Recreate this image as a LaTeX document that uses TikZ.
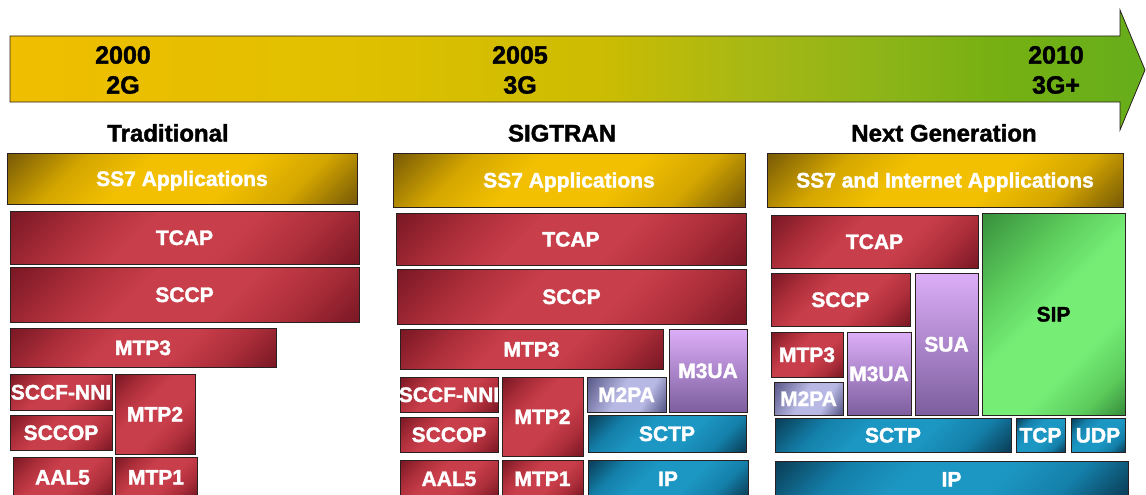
\documentclass[tikz,border=0pt]{standalone}
\usepackage{fontspec}
\setmainfont{Liberation Sans}[BoldFeatures={FakeBold=1.6}]
\definecolor{rdark}{HTML}{7A1824}
\definecolor{rmid}{HTML}{AC2E3A}
\definecolor{rlight}{HTML}{C83E4A}
\definecolor{ydark}{HTML}{7A5C06}
\definecolor{ymid}{HTML}{D4A600}
\definecolor{ylight}{HTML}{F2C000}
\definecolor{bdark}{HTML}{0A3E58}
\definecolor{bmid}{HTML}{1480AA}
\definecolor{blight}{HTML}{1C96C2}
\definecolor{gdark}{HTML}{38903C}
\definecolor{gmid}{HTML}{5CCC5C}
\definecolor{glight}{HTML}{76EE76}
\definecolor{mdark}{HTML}{5E5E8E}
\definecolor{mlight}{HTML}{B8B8E4}
\definecolor{ptop}{HTML}{DCAEF8}
\definecolor{pbot}{HTML}{7D5E9E}
\definecolor{edge}{HTML}{2A2020}
\definecolor{tl1}{HTML}{F0BE00}
\definecolor{tl2}{HTML}{E0C000}
\definecolor{tl3}{HTML}{CCBC02}
\definecolor{tl4}{HTML}{A8B814}
\definecolor{tl5}{HTML}{8AB418}
\definecolor{tl6}{HTML}{76B012}
\definecolor{tl7}{HTML}{66AE1C}
% rotated shadings: corners of the box fall at ~15bp and ~85bp
\pgfdeclarehorizontalshading{redsh}{100bp}{color(0bp)=(rdark); color(15bp)=(rdark); color(29bp)=(rmid); color(41bp)=(rlight); color(59bp)=(rlight); color(72bp)=(rmid); color(85bp)=(rdark); color(100bp)=(rdark)}
\pgfdeclarehorizontalshading{yelsh}{100bp}{color(0bp)=(ydark); color(15bp)=(ydark); color(29bp)=(ymid); color(41bp)=(ylight); color(59bp)=(ylight); color(72bp)=(ymid); color(85bp)=(ydark); color(100bp)=(ydark)}
\pgfdeclarehorizontalshading{blush}{100bp}{color(0bp)=(bdark); color(15bp)=(bdark); color(29bp)=(bmid); color(41bp)=(blight); color(59bp)=(blight); color(72bp)=(bmid); color(85bp)=(bdark); color(100bp)=(bdark)}
\pgfdeclarehorizontalshading{grnsh}{100bp}{color(0bp)=(gdark); color(15bp)=(gdark); color(34bp)=(gmid); color(48bp)=(glight); color(64bp)=(glight); color(76bp)=(gmid); color(85bp)=(gdark); color(100bp)=(gdark)}
\pgfdeclarehorizontalshading{m2sh}{100bp}{color(0bp)=(mdark); color(18bp)=(mdark); color(45bp)=(mlight); color(65bp)=(mlight); color(82bp)=(mdark); color(100bp)=(mdark)}
% unrotated shading: the box spans 25bp to 75bp
\pgfdeclarehorizontalshading{tlsh}{100bp}{color(0bp)=(tl1); color(25bp)=(tl1); color(40bp)=(tl2); color(51bp)=(tl3); color(57.5bp)=(tl4); color(64bp)=(tl5); color(68.5bp)=(tl6); color(75bp)=(tl7); color(100bp)=(tl7)}
\newcommand\lab[1]{\makebox[0pt][c]{#1}}
\newcommand\blk[7]{%
  \pgfmathsetmacro\bcx{(#3+#5)/2}%
  \pgfmathsetmacro\bcy{(#4+#6)/2}%
  \pgfmathsetmacro\bw{#5-#3}%
  \pgfmathsetmacro\bh{#6-#4}%
  \node[#1, minimum width=\bw pt, minimum height=\bh pt] (#2) at (\bcx,\bcy) {\lab{#7}};}
\tikzset{
  blk/.style={draw=edge, line width=0.8pt, inner sep=0pt, outer sep=0pt, text=white,
    font=\fontsize{21}{24}\selectfont\bfseries, text height=15pt, text depth=0pt},
  rbox/.style={blk, shading=redsh, shading angle=-45},
  ybox/.style={blk, shading=yelsh, shading angle=-45},
  bubox/.style={blk, shading=blush, shading angle=-45},
  gbox/.style={blk, shading=grnsh, shading angle=-45, text=black},
  mbox/.style={blk, shading=m2sh, shading angle=-30},
  pbox/.style={blk, top color=ptop, bottom color=pbot},
  year/.style={font=\fontsize{25}{30}\selectfont\bfseries, align=center, text=black},
  head/.style={font=\fontsize{24}{28}\selectfont\bfseries, text=black, text height=17pt, text depth=0pt}
}
\begin{document}
\begin{tikzpicture}[x=1pt,y=-1pt]
\useasboundingbox (0,0) rectangle (1146,495);
\clip (0,0) rectangle (1146,495);
% timeline arrow
\path[shading=tlsh, draw=edge, line width=0.8pt]
  (10,36) -- (1120,36) -- (1120,10) -- (1145,70) -- (1120,130) -- (1120,102) -- (10,102) -- cycle;
\node[year] (y2000) at (123,70) {2000\\2G};
\node[year] (y2005) at (520,70) {2005\\3G};
\node[year] (y2010) at (1056,70) {2010\\3G+};
% headings
\node[head] (h1) at (168,133) {Traditional};
\node[head] (h2) at (562,133) {SIGTRAN};
\node[head] (h3) at (944,133) {Next Generation};
% column 1
\blk{ybox}{c1app}{7}{153}{357}{204}{SS7 Applications}
\blk{rbox}{c1tcap}{10}{211}{359}{264}{TCAP}
\blk{rbox}{c1sccp}{10}{267}{359}{322}{SCCP}
\blk{rbox}{c1mtp3}{10}{328}{276}{367}{MTP3}
\blk{rbox}{c1nni}{10}{374}{112}{410}{SCCF-NNI}
\blk{rbox}{c1mtp2}{115}{374}{195}{454}{MTP2}
\blk{rbox}{c1sccop}{10}{415}{112}{450}{SCCOP}
\blk{rbox}{c1aal5}{13}{457}{112}{497}{AAL5}
\blk{rbox}{c1mtp1}{115}{457}{197}{497}{MTP1}
% column 2
\blk{ybox}{c2app}{393}{153}{745}{207}{SS7 Applications}
\blk{rbox}{c2tcap}{396}{213}{746}{265}{TCAP}
\blk{rbox}{c2sccp}{397}{269}{746}{324}{SCCP}
\blk{rbox}{c2mtp3}{400}{329}{663}{369}{MTP3}
\blk{pbox}{c2m3ua}{669}{329}{747}{412}{M3UA}
\blk{rbox}{c2nni}{400}{377}{498}{412}{SCCF-NNI}
\blk{rbox}{c2mtp2}{502}{377}{583}{456}{MTP2}
\blk{mbox}{c2m2pa}{587}{377}{666}{412}{M2PA}
\blk{rbox}{c2sccop}{400}{417}{498}{452}{SCCOP}
\blk{bubox}{c2sctp}{588}{415}{746}{452}{SCTP}
\blk{rbox}{c2aal5}{400}{460}{498}{497}{AAL5}
\blk{rbox}{c2mtp1}{502}{460}{583}{497}{MTP1}
\blk{bubox}{c2ip}{588}{460}{748}{497}{IP}
% column 3
\blk{ybox}{c3app}{767}{153}{1123}{207}{SS7 and Internet Applications}
\blk{rbox}{c3tcap}{771}{215}{978}{268}{TCAP}
\blk{gbox}{c3sip}{982}{213}{1125}{415}{SIP}
\blk{rbox}{c3sccp}{771}{273}{910}{326}{SCCP}
\blk{pbox}{c3sua}{915}{273}{978}{415}{SUA}
\blk{rbox}{c3mtp3}{771}{332}{843}{377}{MTP3}
\blk{pbox}{c3m3ua}{847}{332}{911}{415}{M3UA}
\blk{mbox}{c3m2pa}{774}{382}{843}{415}{M2PA}
\blk{bubox}{c3sctp}{775}{418}{1011}{452}{SCTP}
\blk{bubox}{c3tcp}{1016}{418}{1065}{452}{TCP}
\blk{bubox}{c3udp}{1071}{418}{1125}{452}{UDP}
\blk{bubox}{c3ip}{775}{461}{1128}{497}{IP}
\end{tikzpicture}
\end{document}
